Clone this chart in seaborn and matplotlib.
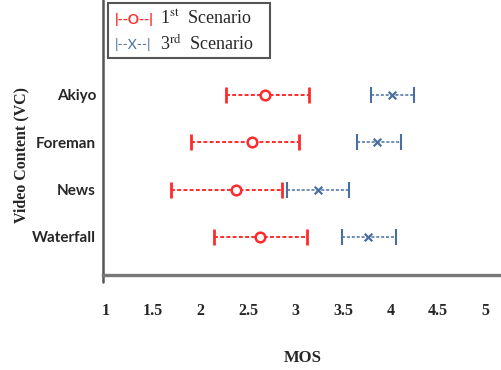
import numpy as np
import pandas as pd
import matplotlib
matplotlib.use("Agg")
import matplotlib.pyplot as plt
import seaborn as sns
from matplotlib.patches import Rectangle

# ---------- data ----------
videos = ["Akiyo", "Foreman", "News", "Waterfall"]

s1_low = [2.27, 1.90, 1.69, 2.14]
s1_mean = [2.68, 2.54, 2.37, 2.63]
s1_high = [3.14, 3.04, 2.86, 3.12]

s3_low = [3.79, 3.65, 2.91, 3.49]
s3_mean = [4.01, 3.86, 3.24, 3.76]
s3_high = [4.25, 4.11, 3.56, 4.06]

mos_ticks = [1, 1.5, 2, 2.5, 3, 3.5, 4, 4.5, 5]
mos_labels = ["1", "1.5", "2", "2.5", "3", "3.5", "4", "4.5", "5"]

RED = "#ff2a2a"
BLUE = "#4a6f9e"

sns.set_style("white")
plt.rcParams["mathtext.fontset"] = "stix"

df1 = pd.DataFrame({"video": videos, "mos": s1_mean, "lo": s1_low, "hi": s1_high})
df3 = pd.DataFrame({"video": videos, "mos": s3_mean, "lo": s3_low, "hi": s3_high})
df1["y"] = np.arange(len(videos))
df3["y"] = np.arange(len(videos))

fig = plt.figure(figsize=(5.02, 3.70), dpi=100)
ax = fig.add_axes([0.205, 0.257, 0.795, 0.743])

# intervals: dashed line + end bars
for d, col in [(df1, RED), (df3, BLUE)]:
    lw = 1.4 if col == RED else 1.1
    mw = 2 if col == RED else 1.5
    ax.hlines(d["y"], d["lo"], d["hi"], colors=col, linestyles=(0, (2.0, 1.2)), lw=lw)
    ax.plot(d["lo"], d["y"], ls="none", marker="|", ms=12, mew=mw, color=col)
    ax.plot(d["hi"], d["y"], ls="none", marker="|", ms=12, mew=mw, color=col)

# centre marks
sns.scatterplot(data=df1, x="mos", y="y", ax=ax, marker="o", s=48,
                facecolor="white", edgecolor=RED, linewidth=1.8, zorder=5)
sns.scatterplot(data=df3, x="mos", y="y", ax=ax, marker="x", s=30,
                color=BLUE, linewidth=1.6, zorder=5)

ax.set_xlim(0.975, 5.17)
ax.set_ylim(3.8, -2.0)

ax.set_yticks(range(len(videos)))
ax.set_yticklabels(videos, fontfamily="Lato", fontweight="bold", fontsize=11)
ax.tick_params(axis="y", length=0, pad=5)

ax.set_xticks(mos_ticks)
ax.set_xticklabels(mos_labels, fontfamily="Liberation Serif", fontweight="bold", fontsize=11.5)
ax.tick_params(axis="x", direction="inout", length=9, width=1.8, color="#4f7fae", pad=16)
ax.xaxis.get_major_ticks()[0].tick1line.set_visible(False)

ax.set_xlabel("MOS", fontfamily="Liberation Serif", fontweight="bold", fontsize=12, labelpad=22)
ax.set_ylabel("Video Content (VC)", fontfamily="Liberation Serif", fontweight="bold", fontsize=11.5)
ax.yaxis.set_label_coords(-0.183, 0.436)

for s in ["top", "right"]:
    ax.spines[s].set_visible(False)
ax.spines["left"].set_color("#555555")
ax.spines["left"].set_linewidth(1.8)
ax.spines["bottom"].set_color("#777777")
ax.spines["bottom"].set_linewidth(2.4)
ax.plot([0.975, 0.975], [3.8, 3.95], color="#555555", lw=1.8, clip_on=False)

# legend box drawn as text rows
fig.patches.append(Rectangle((0.216, 0.843), 0.322, 0.149, transform=fig.transFigure,
                             fill=False, edgecolor="#555555", lw=1.5))
fig.text(0.229, 0.948, "|--O--|", color=RED, fontfamily="Lato", fontweight="bold",
         fontsize=10, va="center")
fig.text(0.229, 0.880, "|--X--|", color=BLUE, fontfamily="Lato", fontsize=10, va="center")
fig.text(0.318, 0.948, r"1$^{\mathrm{st}}$  Scenario", fontfamily="Liberation Serif",
         fontsize=13, va="center")
fig.text(0.318, 0.880, r"3$^{\mathrm{rd}}$  Scenario", fontfamily="Liberation Serif",
         fontsize=13, va="center")

fig.savefig("out.png", dpi=100)
